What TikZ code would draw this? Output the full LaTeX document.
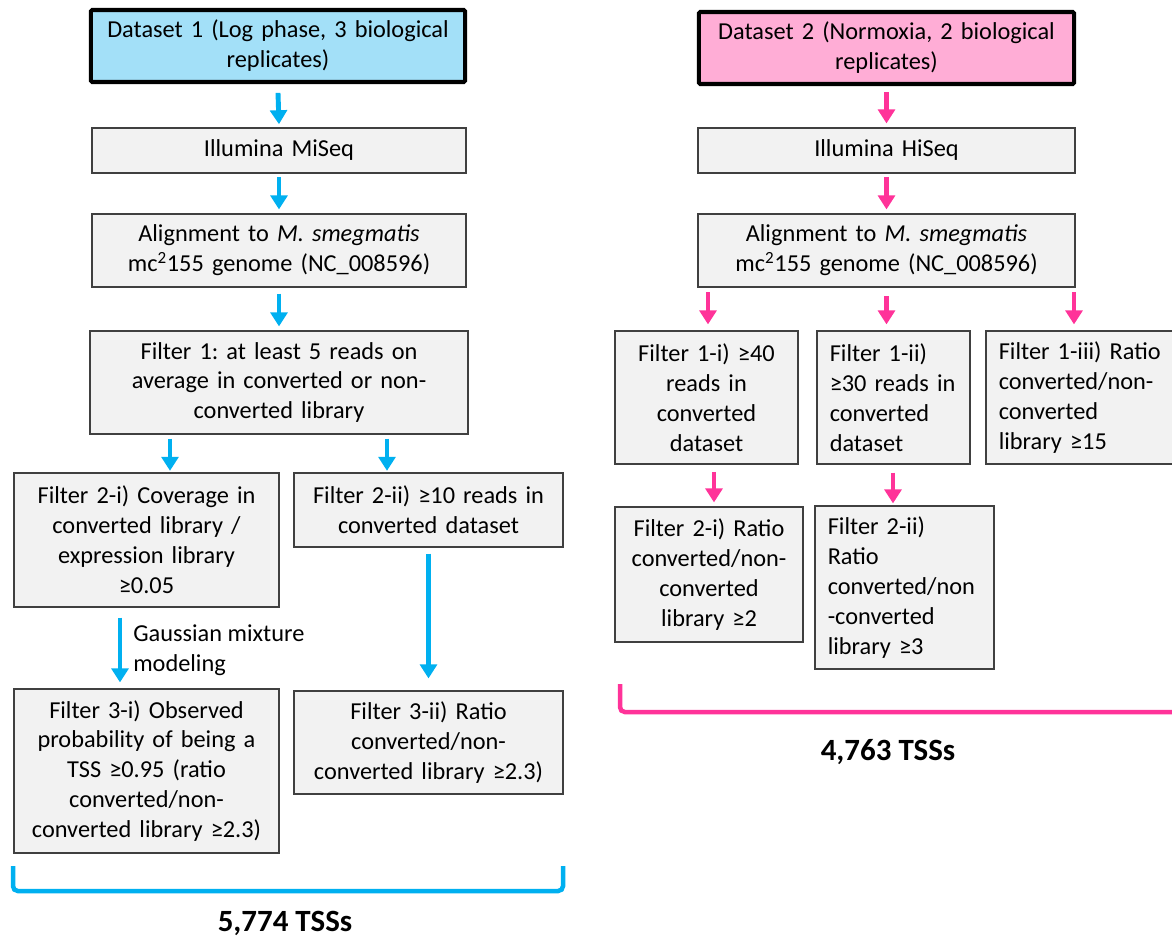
\documentclass[tikz,border=0pt]{standalone}
\usepackage{fontspec}
\setmainfont{Carlito}
\usepackage{xcolor}
\usepackage{tikz}
\usetikzlibrary{arrows.meta,calc}
\frenchspacing
\definecolor{dsblue}{HTML}{A3E0F8}
\definecolor{dspink}{HTML}{FFADD6}
\definecolor{arrblue}{HTML}{00B0F0}
\definecolor{arrpink}{HTML}{FF3399}
\definecolor{boxfill}{HTML}{F2F2F2}
\definecolor{boxline}{HTML}{404040}
\tikzset{
  box/.style={draw=boxline, fill=boxfill, line width=0.8pt, inner xsep=0.32cm, inner ysep=0pt,
    font=\fontsize{17.3}{21.3}\selectfont, text=black},
  dsbox/.style={box, draw=black, line width=2.9pt, rounded corners=1pt},
  barrow/.style={draw=arrblue, line width=3.5pt, -{Triangle[width=0.42cm,length=0.35cm]}},
  parrow/.style={draw=arrpink, line width=3.5pt, -{Triangle[width=0.42cm,length=0.35cm]}},
  brack/.style={line width=3.2pt, rounded corners=0.12cm},
  lbl/.style={font=\fontsize{17.3}{21.3}\selectfont, inner sep=0pt},
  tss/.style={font=\fontsize{22}{26}\selectfont\bfseries, inner sep=0pt}
}

\begin{document}
\begin{tikzpicture}[x=0.025cm, y=-0.025cm]
  \useasboundingbox (0,0) rectangle (1172,941);

  % dataset 1
  \node[dsbox, fill=dsblue, minimum width=9.35cm, minimum height=1.8cm, text width=8.71cm, align=center]
    (d1) at (278,46) {Dataset 1 (Log phase, 3 biological\\replicates)};
  \node[box, minimum width=9.35cm, minimum height=1.125cm, text width=8.71cm, align=center]
    (miseq) at (279,150.5) {Illumina MiSeq};
  \node[box, minimum width=9.35cm, minimum height=1.825cm, text width=8.71cm, align=center]
    (al1) at (279,250.5) {Alignment to \textit{M. smegmatis}\\mc\textsuperscript{2}155 genome (NC\_008596)};
  \node[box, minimum width=9.45cm, minimum height=2.575cm, text width=8.81cm, align=center]
    (filt1) at (279,382.5) {Filter 1: at least 5 reads on\\average in converted or non-\\converted library};
  \node[box, minimum width=6.625cm, minimum height=3.35cm, text width=5.985cm, align=center]
    (f2a) at (146.5,540) {Filter 2-i) Coverage in\\converted library /\\expression library\\≥0.05};
  \node[box, minimum width=6.725cm, minimum height=1.85cm, text width=6.085cm, align=center]
    (f2b) at (428.5,510) {Filter 2-ii) ≥10 reads in\\converted dataset};
  \node[box, minimum width=6.625cm, minimum height=4.1cm, text width=5.985cm, align=center]
    (f3a) at (146.5,771) {Filter 3-i) Observed\\probability of being a\\TSS ≥0.95 (ratio\\converted/non-\\converted library ≥2.3)};
  \node[box, minimum width=6.725cm, minimum height=2.575cm, text width=6.085cm, align=center]
    (f3b) at (428.5,742.5) {Filter 3-ii) Ratio\\converted/non-\\converted library ≥2.3)};

  % dataset 2
  \node[dsbox, fill=dspink, minimum width=9.375cm, minimum height=1.8cm, text width=8.735cm, align=center]
    (d2) at (886.5,48) {Dataset 2 (Normoxia, 2 biological\\replicates)};
  \node[box, minimum width=9.425cm, minimum height=1.125cm, text width=8.785cm, align=center]
    (hiseq) at (886.5,150.5) {Illumina HiSeq};
  \node[box, minimum width=9.425cm, minimum height=1.825cm, text width=8.785cm, align=center]
    (al2) at (886.5,250.5) {Alignment to \textit{M. smegmatis}\\mc\textsuperscript{2}155 genome (NC\_008596)};
  \node[box, minimum width=4.575cm, minimum height=3.325cm, text width=3.935cm, align=center]
    (g1a) at (706.5,397.5) {Filter 1-i) ≥40\\reads in\\converted\\dataset};
  \node[box, minimum width=3.825cm, minimum height=3.325cm, text width=3.185cm, align=left]
    (g1b) at (893.5,397.5) {Filter 1-ii)\\≥30 reads in\\converted\\dataset};
  \node[box, minimum width=5.1cm, minimum height=3.325cm, text width=4.46cm, align=left]
    (g1c) at (1088,397.5) {Filter 1-iii) Ratio\\converted/non-\\converted\\library ≥15};
  \node[box, minimum width=4.7cm, minimum height=3.375cm, text width=4.06cm, align=center]
    (g2a) at (709,574.5) {Filter 2-i) Ratio\\converted/non-\\converted\\library ≥2};
  \node[box, minimum width=4.475cm, minimum height=4.075cm, text width=3.835cm, align=left]
    (g2b) at (904.5,587.5) {Filter 2-ii)\\Ratio\\converted/non\\-converted\\library ≥3};

  % arrow columns
  \coordinate (xa) at (170,0);
  \coordinate (xb) at (387,0);
  \coordinate (xc) at (120,0);
  \coordinate (xd) at (708,0);
  \coordinate (xe) at (1074,0);
  \coordinate (xf) at (714,0);
  \coordinate (xg) at (893,0);

  \draw[barrow] ([yshift=-0.22cm]d1.south) -- ([yshift=0.08cm]miseq.north);
  \draw[barrow] ([yshift=-0.08cm]miseq.south) -- ([yshift=0.1cm]al1.north);
  \draw[barrow] ([yshift=-0.15cm]al1.south) -- ([yshift=0.1cm]filt1.north);
  \draw[barrow] ([yshift=-0.1cm]filt1.south -| xa) -- ([yshift=0.04cm]xa |- f2a.north);
  \draw[barrow] ([yshift=-0.1cm]filt1.south -| xb) -- ([yshift=0.04cm]xb |- f2b.north);
  \draw[barrow] ([yshift=-0.25cm]f2a.south -| xc) -- ([yshift=0.15cm]xc |- f3a.north);
  \draw[barrow] ([yshift=-0.15cm]f2b.south) -- ([yshift=0.3cm]f3b.north);
  \node[lbl, anchor=west, align=left] (gmm) at (133,650) {Gaussian mixture\\modeling};

  \draw[parrow] ([yshift=-0.15cm]d2.south) -- ([yshift=0.1cm]hiseq.north);
  \draw[parrow] ([yshift=-0.08cm]hiseq.south) -- ([yshift=0.1cm]al2.north);
  \draw[parrow] ([yshift=-0.12cm]al2.south -| xd) -- ([yshift=0.15cm]xd |- g1a.north);
  \draw[parrow] ([yshift=-0.22cm]al2.south) -- ([yshift=0.15cm]g1b.north -| al2.south);
  \draw[parrow] ([yshift=-0.12cm]al2.south -| xe) -- ([yshift=0.15cm]xe |- g1c.north);
  \draw[parrow] ([yshift=-0.18cm]g1a.south -| xf) -- ([yshift=0.1cm]xf |- g2a.north);
  \draw[parrow] ([yshift=-0.2cm]g1b.south -| xg) -- ([yshift=0.05cm]xg |- g2b.north);

  % brackets and totals
  \draw[brack, draw=arrblue] (13,866) -- (13,891) -- (563,891) -- (563,866);
  \draw[brack, draw=arrpink] (620,684) -- (620,712) -- (1190,712);
  \node[tss] (tss1) at (285,923) {5,774 TSSs};
  \node[tss] (tss2) at (888,752) {4,763 TSSs};
\end{tikzpicture}
\end{document}
